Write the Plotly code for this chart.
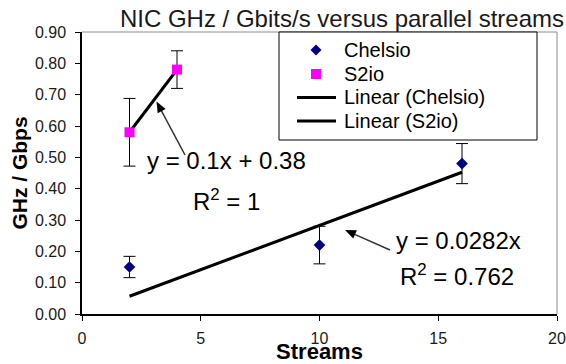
import numpy as np
import plotly.graph_objects as go

# ---- data ----
chelsio_x = [2, 10, 16]
chelsio_y = [0.15, 0.22, 0.48]
chelsio_err = [0.034, 0.06, 0.064]
s2io_x = [2, 4]
s2io_y = [0.58, 0.78]
s2io_err = [0.108, 0.06]
x_ticks = [0, 5, 10, 15, 20]
y_ticks = [0.0, 0.1, 0.2, 0.3, 0.4, 0.5, 0.6, 0.7, 0.8, 0.9]
title_text = "NIC GHz / Gbits/s versus parallel streams"
x_title = "Streams"
y_title = "GHz / Gbps"
legend_names = ["Chelsio", "S2io", "Linear (Chelsio)", "Linear (S2io)"]
eq_chelsio = ["y = 0.0282x", "R<sup>2</sup> = 0.762"]
eq_s2io = ["y = 0.1x + 0.38", "R<sup>2</sup> = 1"]

# trend fits from data
cx = np.array(chelsio_x, float); cy = np.array(chelsio_y, float)
c_slope = float((cx * cy).sum() / (cx * cx).sum())  # intercept forced to 0
sx = np.array(s2io_x, float); sy = np.array(s2io_y, float)
s_slope, s_icpt = np.polyfit(sx, sy, 1)
c_trend_x = [cx.min(), cx.max()]
c_trend_y = [c_slope * v for v in c_trend_x]
s_trend_x = [sx.min(), sx.max()]
s_trend_y = [s_slope * v + s_icpt for v in s_trend_x]

W, H = 566, 364
L, R, T, B = 82, 9, 32, 50
PW, PH = W - L - R, H - T - B

def px(x):
    return (x - L) / PW

def py(y):
    return 1 - (y - T) / PH

FONT = "Liberation Sans, Arial, sans-serif"

fig = go.Figure()
fig.add_trace(go.Scatter(x=c_trend_x, y=c_trend_y, mode="lines", name=legend_names[2],
                         line=dict(color="black", width=3), showlegend=False))
fig.add_trace(go.Scatter(x=s_trend_x, y=s_trend_y, mode="lines", name=legend_names[3],
                         line=dict(color="black", width=3), showlegend=False))
fig.add_trace(go.Scatter(x=chelsio_x, y=chelsio_y, mode="markers", name=legend_names[0],
                         marker=dict(symbol="diamond", size=9, color="#000080"),
                         error_y=dict(type="data", array=chelsio_err, color="black",
                                      thickness=1, width=6),
                         showlegend=False))
fig.add_trace(go.Scatter(x=s2io_x, y=s2io_y, mode="markers", name=legend_names[1],
                         marker=dict(symbol="square", size=10, color="#FF00FF"),
                         error_y=dict(type="data", array=s2io_err, color="black",
                                      thickness=1, width=6),
                         showlegend=False))

shapes = []
# gray top/right frame
shapes.append(dict(type="line", xref="paper", yref="paper", x0=0, x1=1, y0=1, y1=1,
                   line=dict(color="#8c8c8c", width=1)))
shapes.append(dict(type="line", xref="paper", yref="paper", x0=1, x1=1, y0=0, y1=1,
                   line=dict(color="#8c8c8c", width=1)))
# legend box
shapes.append(dict(type="rect", xref="paper", yref="paper", x0=px(279), x1=px(537),
                   y0=py(140), y1=py(32), line=dict(color="black", width=1),
                   fillcolor="white", layer="above"))
# legend diamond
dx, dy = 316, 50
shapes.append(dict(type="path", xref="paper", yref="paper",
                   path=f"M {px(dx-5.5)},{py(dy)} L {px(dx)},{py(dy-5.5)} L {px(dx+5.5)},{py(dy)} L {px(dx)},{py(dy+5.5)} Z",
                   fillcolor="#000080", line=dict(width=0), layer="above"))
# legend square
shapes.append(dict(type="rect", xref="paper", yref="paper", x0=px(311), x1=px(321),
                   y0=py(79), y1=py(69), fillcolor="#FF00FF", line=dict(width=0), layer="above"))
for ly in (97.5, 121):
    shapes.append(dict(type="line", xref="paper", yref="paper", x0=px(297), x1=px(336),
                       y0=py(ly), y1=py(ly), line=dict(color="black", width=3), layer="above"))

# arrows drawn as line + filled head (pixel positions of tip and tail)
def arrow(tipx, tipy, tailx, taily, hl=11.0, hw=4.5, color="#333333"):
    vx, vy = tailx - tipx, taily - tipy
    n = (vx * vx + vy * vy) ** 0.5
    ux, uy = vx / n, vy / n
    bx, by = tipx + ux * hl, tipy + uy * hl
    nx, ny = -uy, ux
    shapes.append(dict(type="line", xref="paper", yref="paper",
                       x0=px(bx - ux), y0=py(by - uy), x1=px(tailx), y1=py(taily),
                       line=dict(color=color, width=1.5)))
    p1 = (bx + nx * hw, by + ny * hw)
    p2 = (bx - nx * hw, by - ny * hw)
    shapes.append(dict(type="path", xref="paper", yref="paper",
                       path=f"M {px(tipx)},{py(tipy)} L {px(p1[0])},{py(p1[1])} L {px(p2[0])},{py(p2[1])} Z",
                       fillcolor="black", line=dict(width=0)))

arrow(156.5, 101.5, 185, 155)
arrow(345, 230, 390, 250)

annotations = []
def txt(x, y, s, size, xanchor="left", bold=False, angle=0, color="black"):
    annotations.append(dict(x=px(x), y=py(y), xref="paper", yref="paper", text=s,
                            showarrow=False, xanchor=xanchor, yanchor="middle",
                            textangle=angle,
                            font=dict(family=FONT, size=size, color=color,
                                      weight="bold" if bold else "normal")))

txt(342, 50, legend_names[0], 20)
txt(342, 73.5, legend_names[1], 20)
txt(342, 97, legend_names[2], 20)
txt(342, 120.5, legend_names[3], 20)
txt(226, 160, eq_s2io[0], 24, xanchor="center")
txt(226, 200, eq_s2io[1], 24, xanchor="center")
txt(458, 240, eq_chelsio[0], 24, xanchor="center")
txt(457, 275, eq_chelsio[1], 24, xanchor="center")

fig.update_layout(
    width=W, height=H, margin=dict(l=L, r=R, t=T, b=B, pad=0, autoexpand=False),
    paper_bgcolor="white", plot_bgcolor="white",
    shapes=shapes, annotations=annotations, showlegend=False,
    font=dict(family=FONT, color="black"),
    title=dict(text=title_text, x=342 / W, xanchor="center", y=1 - 19 / H, yanchor="middle",
               font=dict(family=FONT, size=24, color="#1a1a1a")),
    xaxis=dict(range=[0, 20], tickvals=x_ticks, ticks="outside", ticklen=5, tickwidth=1,
               tickcolor="black", showline=True, linecolor="black", linewidth=1.5,
               showgrid=False, zeroline=False, tickfont=dict(size=16, color="#1a1a1a"),
               ticklabelstandoff=4, automargin=False,
               title=dict(text=x_title, standoff=0,
                          font=dict(family=FONT, size=22, color="black", weight="bold"))),
    yaxis=dict(range=[0, 0.9], tickvals=y_ticks, tickformat=".2f", ticks="outside", ticklen=5,
               tickwidth=1, tickcolor="black", showline=True, linecolor="black", linewidth=1.5,
               showgrid=False, zeroline=False, tickfont=dict(size=16, color="#1a1a1a"),
               ticklabelstandoff=6, automargin=False,
               title=dict(text=y_title, standoff=2,
                          font=dict(family=FONT, size=21, color="black", weight="bold"))),
)
fig.write_html("out.html")
